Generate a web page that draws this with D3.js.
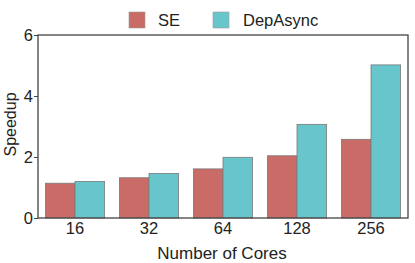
<!DOCTYPE html>
<html>
<head>
<meta charset="utf-8">
<script src="https://cdn.jsdelivr.net/npm/d3@7"></script>
<style>
  body { margin: 0; background: #fff; }
  text { font-family: "Liberation Sans", Arial, sans-serif; fill: #222; }
</style>
</head>
<body>
<div id="chart"></div>
<script>
// data
var cores = ["16", "32", "64", "128", "256"];
var seriesNames = ["SE", "DepAsync"];
var seValues = [1.14, 1.32, 1.61, 2.04, 2.58];
var depAsyncValues = [1.20, 1.46, 1.99, 3.07, 5.02];
var yTicks = [0, 2, 4, 6];
var colors = ["#c96b66", "#67c5cc"];

var W = 415, H = 263;
var margin = {top: 35, right: 7, bottom: 45, left: 38};
var width = W - margin.left - margin.right,
    height = H - margin.top - margin.bottom;

var svg = d3.select("#chart").append("svg")
    .attr("width", W).attr("height", H);
var g = svg.append("g")
    .attr("transform", "translate(" + margin.left + "," + margin.top + ")");

var x = d3.scaleBand().domain(cores).range([0, width])
    .paddingInner(0.2).paddingOuter(0.1);
var xSub = d3.scaleBand().domain(seriesNames).range([0, x.bandwidth()]);
var y = d3.scaleLinear().domain([0, 6]).range([height, 0]);

var color = d3.scaleOrdinal().domain(seriesNames).range(colors);

// bars
var rows = cores.map(function(c, i) {
    return {core: c, values: [
        {key: "SE", value: seValues[i]},
        {key: "DepAsync", value: depAsyncValues[i]}
    ]};
});

g.selectAll("g.grp")
    .data(rows)
    .enter().append("g")
    .attr("class", "grp")
    .attr("transform", function(d) { return "translate(" + x(d.core) + ",0)"; })
    .selectAll("rect")
    .data(function(d) { return d.values; })
    .enter().append("rect")
    .attr("x", function(d) { return xSub(d.key); })
    .attr("y", function(d) { return y(d.value); })
    .attr("width", xSub.bandwidth())
    .attr("height", function(d) { return height - y(d.value); })
    .attr("fill", function(d) { return color(d.key); })
    .attr("stroke", "#7a7a7a")
    .attr("stroke-width", 0.8);

// axes
var xAxis = g.append("g")
    .attr("transform", "translate(0," + height + ")")
    .call(d3.axisBottom(x).tickSize(0).tickPadding(4));
xAxis.select(".domain").remove();
xAxis.selectAll("text").style("font-size", "16.5px")
    .style("font-family", "Liberation Sans, Arial, sans-serif").attr("fill", "#222");

var yAxis = g.append("g")
    .call(d3.axisLeft(y).tickValues(yTicks).tickFormat(d3.format("d"))
        .tickSize(4).tickPadding(1));
yAxis.select(".domain").remove();
yAxis.selectAll("line").attr("stroke", "#444");
yAxis.selectAll("text").style("font-size", "16.5px")
    .style("font-family", "Liberation Sans, Arial, sans-serif").attr("fill", "#222");

// frame
g.append("rect")
    .attr("width", width).attr("height", height)
    .attr("fill", "none")
    .attr("stroke", "#444").attr("stroke-width", 1.3);

// axis labels
svg.append("text")
    .attr("x", margin.left + width / 2 - 1)
    .attr("y", 259)
    .attr("text-anchor", "middle")
    .style("font-size", "17px")
    .text("Number of Cores");

svg.append("text")
    .attr("transform", "translate(16," + (margin.top + height / 2 - 2) + ") rotate(-90)")
    .attr("text-anchor", "middle")
    .style("font-size", "16px")
    .text("Speedup");

// legend
var legendX = [129, 213];
var legend = svg.append("g").selectAll("g")
    .data(seriesNames)
    .enter().append("g")
    .attr("transform", function(d, i) { return "translate(" + legendX[i] + ",12)"; });

legend.append("rect")
    .attr("width", 16).attr("height", 16)
    .attr("fill", function(d) { return color(d); })
    .attr("stroke", "#999").attr("stroke-width", 0.6);

legend.append("text")
    .attr("x", function(d, i) { return i === 0 ? 29 : 30; })
    .attr("y", 14)
    .style("font-size", "16.5px")
    .text(function(d) { return d; });
</script>
</body>
</html>
